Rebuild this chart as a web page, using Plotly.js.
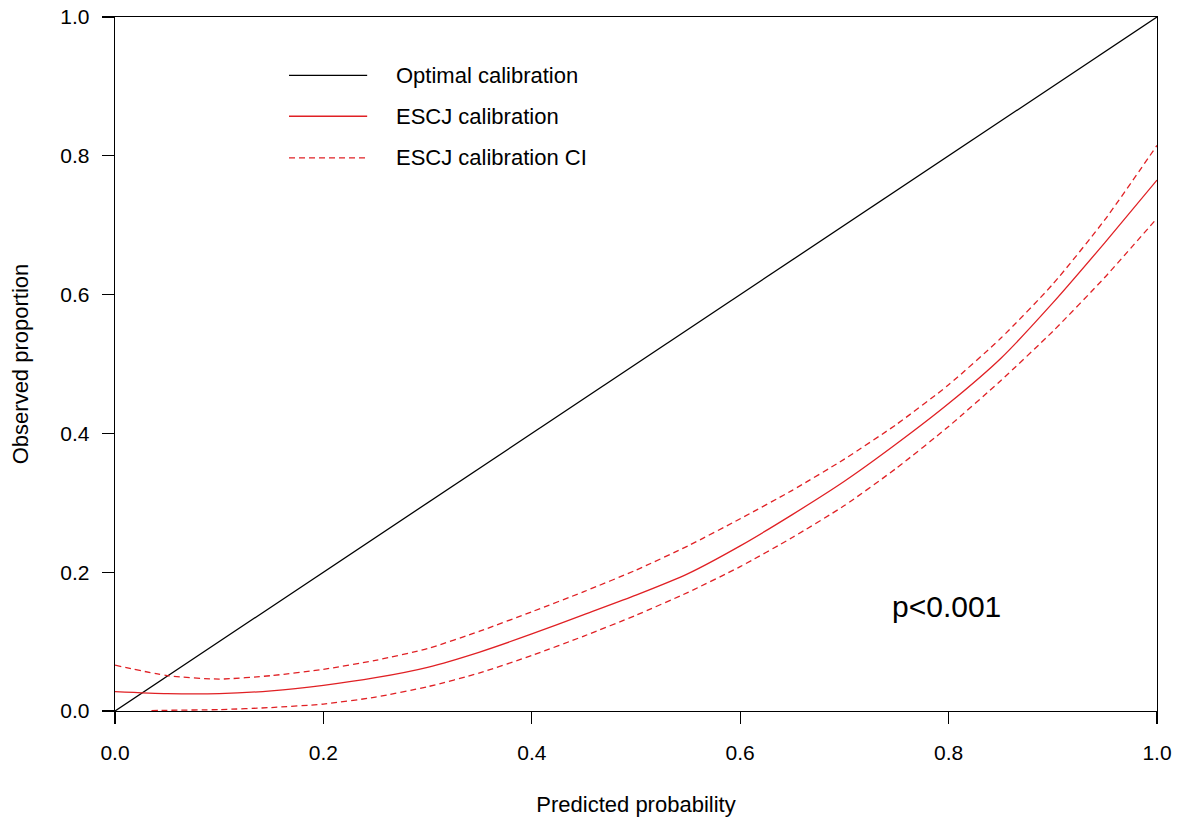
<!DOCTYPE html>
<html>
<head>
<meta charset="utf-8">
<script src="https://cdn.plot.ly/plotly-3.0.1.min.js"></script>
<style>html,body{margin:0;padding:0;background:#fff;}#chart{width:1182px;height:826px;}</style>
</head>
<body>
<div id="chart"></div>
<script>
// Data
const optimalX = [0, 1];
const optimalY = [0, 1];

const predX = [0, 0.05, 0.1, 0.15, 0.2, 0.25, 0.3, 0.35, 0.4, 0.45, 0.5, 0.55, 0.6, 0.65, 0.7, 0.75, 0.8, 0.85, 0.9, 0.95, 1.0];
const calib = [0.028, 0.025, 0.025, 0.029, 0.037, 0.048, 0.063, 0.085, 0.111, 0.139, 0.167, 0.198, 0.238, 0.283, 0.331, 0.385, 0.443, 0.508, 0.588, 0.675, 0.765];
const ciUpper = [0.066, 0.051, 0.046, 0.051, 0.060, 0.073, 0.090, 0.115, 0.143, 0.172, 0.203, 0.238, 0.277, 0.318, 0.363, 0.413, 0.470, 0.537, 0.615, 0.708, 0.815];
const ciLowerX = [0.035, 0.05, 0.1, 0.15, 0.2, 0.25, 0.3, 0.35, 0.4, 0.45, 0.5, 0.55, 0.6, 0.65, 0.7, 0.75, 0.8, 0.85, 0.9, 0.95, 1.0];
const ciLower = [0.0005, 0.001, 0.002, 0.005, 0.010, 0.020, 0.035, 0.055, 0.080, 0.108, 0.138, 0.171, 0.208, 0.250, 0.296, 0.350, 0.410, 0.476, 0.547, 0.625, 0.710];

const legendLabels = ["Optimal calibration", "ESCJ calibration", "ESCJ calibration CI"];
const xTicks = [0, 0.2, 0.4, 0.6, 0.8, 1.0];
const xTickText = ["0.0", "0.2", "0.4", "0.6", "0.8", "1.0"];
const yTicks = [0, 0.2, 0.4, 0.6, 0.8, 1.0];
const yTickText = ["0.0", "0.2", "0.4", "0.6", "0.8", "1.0"];
const pText = "p<0.001";

const RED = 'rgb(224,32,36)';
const FONT = '"Liberation Sans", Arial, Helvetica, sans-serif';

const traces = [
  {x: optimalX, y: optimalY, mode: 'lines', line: {color: 'black', width: 1.3}, name: legendLabels[0], showlegend: false},
  {x: predX, y: calib, mode: 'lines', line: {color: RED, width: 1.3, shape: 'spline', smoothing: 0.6}, name: legendLabels[1], showlegend: false},
  {x: predX, y: ciUpper, mode: 'lines', line: {color: RED, width: 1.3, dash: '6px,4px', shape: 'spline', smoothing: 0.6}, name: legendLabels[2], showlegend: false},
  {x: ciLowerX, y: ciLower, mode: 'lines', line: {color: RED, width: 1.3, dash: '6px,4px', shape: 'spline', smoothing: 0.6}, name: legendLabels[2], showlegend: false}
];

const legY = [0.916, 0.857, 0.797];
const legStyles = [
  {color: 'black', width: 1.3, dash: 'solid'},
  {color: RED, width: 1.3, dash: 'solid'},
  {color: RED, width: 1.3, dash: '6px,4px'}
];
const shapes = legY.map((y, i) => ({
  type: 'line', xref: 'paper', yref: 'paper', x0: 0.167, x1: 0.242, y0: y, y1: y, line: legStyles[i]
}));
const annotations = legY.map((y, i) => ({
  xref: 'paper', yref: 'paper', x: 0.268, y: y, xanchor: 'left', yanchor: 'middle',
  text: legendLabels[i], showarrow: false, font: {family: FONT, size: 22, color: 'black'}
}));
annotations.push({
  xref: 'paper', yref: 'paper', x: 0.798, y: 0.151, xanchor: 'center', yanchor: 'middle',
  text: pText, showarrow: false, font: {family: FONT, size: 30, color: 'black'}
});

const axisCommon = {
  showgrid: false, zeroline: false, showline: true, linecolor: 'black', linewidth: 1.3,
  mirror: true, ticks: 'outside', ticklen: 12, tickwidth: 1.3, tickcolor: 'black',
  tickfont: {family: FONT, size: 21, color: 'black'}
};

const layout = {
  width: 1182, height: 826,
  margin: {l: 115, r: 25, t: 17, b: 115},
  paper_bgcolor: 'white', plot_bgcolor: 'white',
  font: {family: FONT, color: 'black'},
  showlegend: false,
  xaxis: Object.assign({}, axisCommon, {
    range: [0, 1], tickvals: xTicks, ticktext: xTickText, ticklabelstandoff: 10,
    title: {text: 'Predicted probability', font: {family: FONT, size: 22, color: 'black'}, standoff: 34}
  }),
  yaxis: Object.assign({}, axisCommon, {
    range: [0, 1], tickvals: yTicks, ticktext: yTickText, ticklabelstandoff: 8,
    title: {text: 'Observed proportion', font: {family: FONT, size: 22, color: 'black'}, standoff: 25}
  }),
  shapes: shapes,
  annotations: annotations
};

Plotly.newPlot('chart', traces, layout, {displayModeBar: false, staticPlot: true});
</script>
</body>
</html>
